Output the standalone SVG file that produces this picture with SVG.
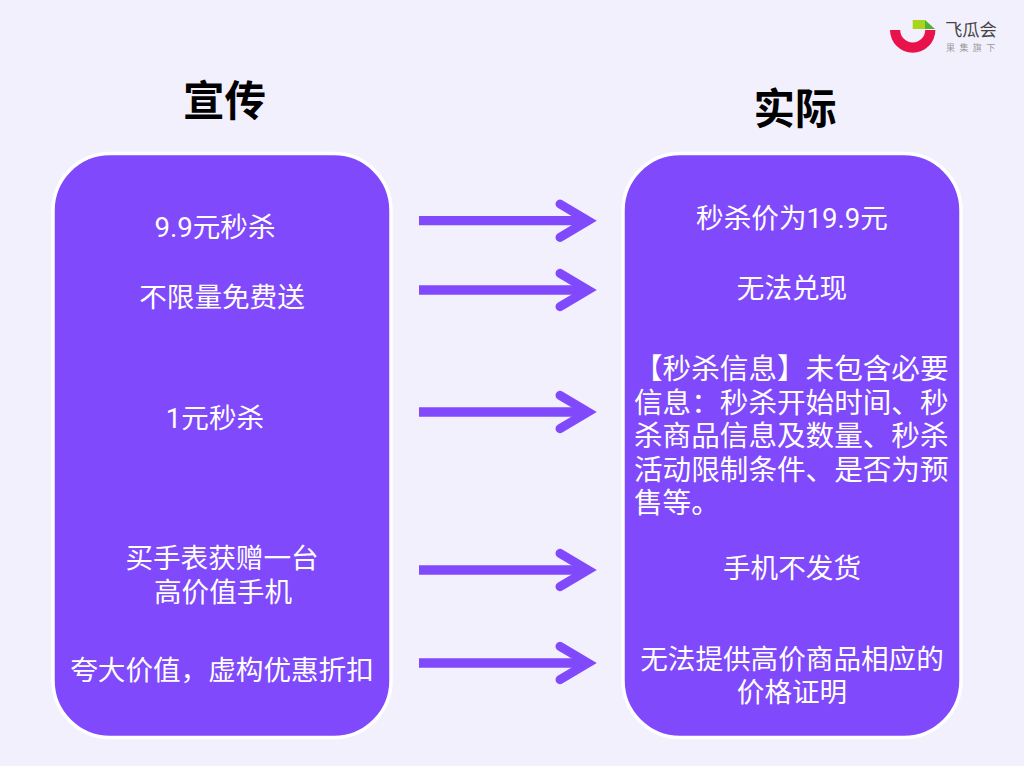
<svg xmlns="http://www.w3.org/2000/svg" width="1024" height="766" viewBox="0 0 1024 766">
<style>
text{font-family:"Roboto","Noto Sans CJK SC",sans-serif;}
.t{font-size:27.600px;fill:#fff;text-anchor:middle;}
.l{font-size:28.600px;fill:#fff;}
.h{font-size:41.500px;font-weight:700;fill:#000;text-anchor:middle;}
.panel{fill:#8049fb;stroke:#fff;stroke-width:3.500;}
.shaft{stroke:#8049fb;stroke-width:9.300;fill:none;}
.head{stroke:#8049fb;stroke-width:9;fill:none;stroke-linecap:round;stroke-linejoin:miter;}
</style>
<defs>
<g id="arrow">
<path d="M419 0H586" class="shaft"/>
<path d="M560 -16.700L588 0L560 16.700" class="head"/>
</g>
</defs>
<rect width="1024" height="766" fill="#f3f0fe"/>
<g id="logo">
<path d="M890 30H900.200A12.500 12.500 0 0 0 925.200 30H935.400A22.700 22.700 0 0 1 890 30Z" fill="#e8134b"/>
<path d="M912.700 20H925V29H912.700Z" fill="#a8d41c"/>
<path d="M925 20L935 29H925Z" fill="#4fb230"/>
<text x="945" y="36" font-size="17.300" fill="#444">飞瓜会</text>
<text x="946" y="51" font-size="9" fill="#999" style="letter-spacing:4.400px">果集旗下</text>
</g>
<g id="title-left"><text class="h" x="224.500" y="116">宣传</text></g>
<g id="title-right"><text class="h" x="795" y="124">实际</text></g>
<g id="left-panel">
<rect class="panel" x="53" y="153.500" width="338" height="584" rx="57"/>
<text class="t" x="215" y="237">9.9元秒杀</text>
<text class="t" x="222" y="307">不限量免费送</text>
<text class="t" x="215" y="428">1元秒杀</text>
<text class="t" y="568"><tspan x="222">买手表获赠一台</tspan><tspan x="223" y="602">高价值手机</tspan></text>
<text class="t" x="222" y="680">夸大价值，虚构优惠折扣</text>
</g>
<g id="right-panel">
<rect class="panel" x="623" y="153.500" width="338" height="584" rx="57"/>
<text class="t" x="792" y="228">秒杀价为19.9元</text>
<text class="t" x="792" y="298">无法兑现</text>
<text class="l" y="379"><tspan x="634">【秒杀信息】未包含必要</tspan><tspan x="634" y="413">信息：秒杀开始时间、秒</tspan><tspan x="634" y="446">杀商品信息及数量、秒杀</tspan><tspan x="634" y="480">活动限制条件、是否为预</tspan><tspan x="634" y="513">售等。</tspan></text>
<text class="t" x="792" y="578">手机不发货</text>
<text class="t" y="669"><tspan x="792">无法提供高价商品相应的</tspan><tspan x="792" y="702">价格证明</tspan></text>
</g>
<g id="connectors">
<use href="#arrow" y="220.700"/>
<use href="#arrow" y="290"/>
<use href="#arrow" y="412"/>
<use href="#arrow" y="570"/>
<use href="#arrow" y="663"/>
</g>
</svg>
